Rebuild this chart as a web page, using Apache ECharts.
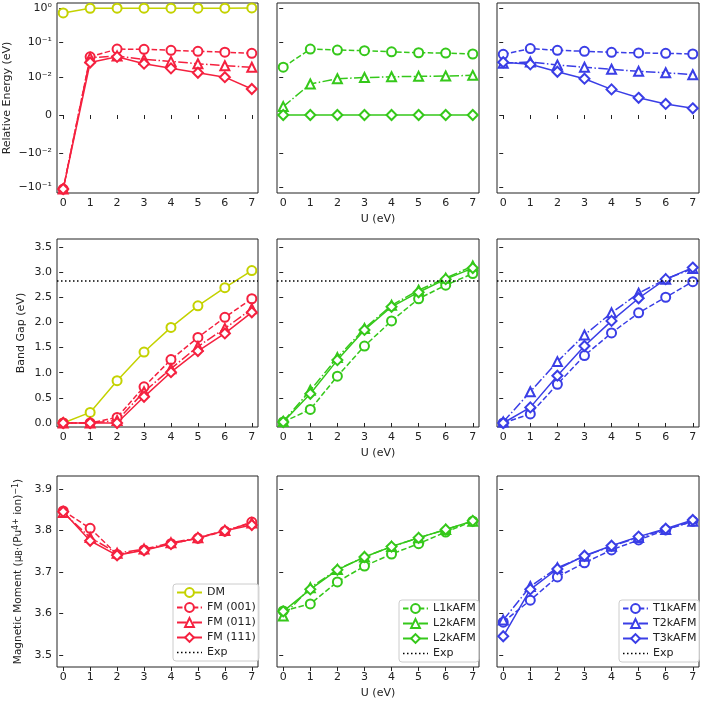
<!DOCTYPE html>
<html>
<head>
<meta charset="utf-8">
<script src="https://cdn.jsdelivr.net/npm/echarts@6/dist/echarts.min.js"></script>
<style>html,body{margin:0;padding:0;background:#fff}#c{width:702px;height:701px}</style>
</head>
<body>
<div id="c"></div>
<script>
// ---------------- data ----------------
const U = [0, 1, 2, 3, 4, 5, 6, 7];

// Relative energy (eV), symlog axis
const eDM    = [0.72, 0.98, 0.99, 0.99, 0.99, 0.99, 0.99, 1.0];
const eFM001 = [-0.11, 0.038, 0.064, 0.063, 0.059, 0.055, 0.052, 0.048];
const eFM011 = [-0.11, 0.036, 0.040, 0.032, 0.028, 0.024, 0.021, 0.019];
const eFM111 = [-0.11, 0.026, 0.038, 0.024, 0.0176, 0.0131, 0.0099, 0.0068];
const eL1 = [0.019, 0.064, 0.060, 0.0575, 0.053, 0.050, 0.049, 0.046];
const eL2 = [0.0022, 0.0081, 0.0095, 0.0098, 0.0100, 0.0103, 0.0105, 0.011];
const eL3 = [0, 0, 0, 0, 0, 0, 0, 0];
const eT1 = [0.045, 0.066, 0.059, 0.055, 0.0515, 0.0495, 0.048, 0.046];
const eT2 = [0.0247, 0.0269, 0.022, 0.0189, 0.0165, 0.0144, 0.0131, 0.0115];
const eT3 = [0.0264, 0.023, 0.014, 0.0095, 0.0067, 0.0045, 0.0029, 0.00175];

// Band gap (eV)
const gDM    = [0.0, 0.21, 0.84, 1.41, 1.90, 2.33, 2.69, 3.03];
const gFM001 = [0, 0, 0.11, 0.72, 1.26, 1.70, 2.10, 2.47];
const gFM011 = [0, 0, 0.05, 0.62, 1.08, 1.52, 1.88, 2.27];
const gFM111 = [0, 0, 0, 0.52, 1.01, 1.43, 1.78, 2.20];
const gL1 = [0.02, 0.27, 0.93, 1.53, 2.03, 2.47, 2.74, 2.97];
const gL2 = [0.03, 0.65, 1.30, 1.88, 2.34, 2.64, 2.88, 3.12];
const gL3 = [0.02, 0.58, 1.25, 1.85, 2.31, 2.60, 2.86, 3.08];
const gT1 = [0.0, 0.18, 0.77, 1.34, 1.79, 2.19, 2.50, 2.81];
const gT2 = [0.02, 0.62, 1.22, 1.75, 2.19, 2.58, 2.86, 3.07];
const gT3 = [0.0, 0.31, 0.94, 1.53, 2.03, 2.48, 2.86, 3.09];
const expGap = 2.82;

// Magnetic moment
const mFM001 = [3.847, 3.805, 3.742, 3.753, 3.768, 3.781, 3.798, 3.820];
const mFM011 = [3.843, 3.783, 3.745, 3.755, 3.770, 3.782, 3.800, 3.818];
const mFM111 = [3.845, 3.775, 3.740, 3.752, 3.767, 3.782, 3.799, 3.813];
const mL1 = [3.606, 3.623, 3.676, 3.714, 3.743, 3.768, 3.796, 3.822];
const mL2 = [3.594, 3.662, 3.706, 3.736, 3.761, 3.782, 3.802, 3.822];
const mL3 = [3.605, 3.658, 3.705, 3.736, 3.761, 3.782, 3.802, 3.823];
const mT1 = [3.579, 3.632, 3.688, 3.722, 3.753, 3.777, 3.801, 3.822];
const mT2 = [3.584, 3.665, 3.710, 3.738, 3.762, 3.783, 3.802, 3.822];
const mT3 = [3.545, 3.658, 3.707, 3.739, 3.763, 3.785, 3.804, 3.825];

// tick labels
const eTicks = [1, 0.1, 0.01, 0, -0.01, -0.1];
const eTickLabels = ['10\u2070', '10\u207B\u00B9', '10\u207B\u00B2', '0', '\u221210\u207B\u00B2', '\u221210\u207B\u00B9'];
const gTicks = [0, 0.5, 1.0, 1.5, 2.0, 2.5, 3.0, 3.5];
const mTicks = [3.5, 3.6, 3.7, 3.8, 3.9];

// ---------------- helpers ----------------
const FONT = 'DejaVu Sans';
const C_Y = '#c4d200', C_R = '#f5213f', C_G = '#35c81a', C_B = '#3a3ee6';
const LT = 0.01, LS = 1 / (1 - 1 / 10);
function symlog(v) {
  const a = Math.abs(v);
  if (a <= LT) return v / LT * LS;
  return Math.sign(v) * (LS + Math.log10(a / LT));
}
const eTickPos = eTicks.map(symlog);

const cols = [{ left: 57, width: 201 }, { left: 277, width: 202 }, { left: 497, width: 202 }];
const rows = [{ top: 3, height: 190 }, { top: 239, height: 188 }, { top: 476, height: 191 }];
const yRanges = [[-2.267, 3.256], [-0.08, 3.658], [3.471, 3.931]];

const grids = [], xAxes = [], yAxes = [];
for (let r = 0; r < 3; r++) {
  for (let c = 0; c < 3; c++) {
    grids.push({ left: cols[c].left, width: cols[c].width, top: rows[r].top, height: rows[r].height,
      show: true, borderColor: '#222', borderWidth: 1, backgroundColor: 'transparent' });
    xAxes.push({
      type: 'value', gridIndex: r * 3 + c, min: -0.23, max: 7.23,
      axisLine: { show: false }, splitLine: { show: false },
      axisTick: { customValues: U, length: 4, lineStyle: { color: '#222' } },
      axisLabel: { customValues: U, fontSize: 11, color: '#222', fontFamily: FONT, margin: 5 },
      name: c === 1 ? 'U (eV)' : '', nameLocation: 'middle', nameGap: 21,
      nameTextStyle: { fontSize: 11, color: '#222', fontFamily: FONT }
    });
    let ticks, fmt, name = '', gap = 0;
    if (r === 0) {
      ticks = eTickPos;
      fmt = v => { let bi = 0, bd = 1e9; eTickPos.forEach((p, i) => { const d = Math.abs(p - v); if (d < bd) { bd = d; bi = i; } }); return eTickLabels[bi]; };
      name = 'Relative Energy (eV)'; gap = 44;
    } else if (r === 1) {
      ticks = gTicks; fmt = v => v.toFixed(1); name = 'Band Gap (eV)'; gap = 30;
    } else {
      ticks = mTicks; fmt = v => v.toFixed(1); name = 'Magnetic Moment (\u03BC{sub|B}\u00B7(Pu{sup|4+} ion){sup|\u22121})'; gap = 33;
    }
    yAxes.push({
      type: 'value', gridIndex: r * 3 + c, min: yRanges[r][0], max: yRanges[r][1],
      axisLine: { show: false }, splitLine: { show: false },
      axisTick: { customValues: ticks, length: 4, lineStyle: { color: '#222' } },
      axisLabel: { show: c === 0, customValues: ticks, formatter: fmt, fontSize: 11, color: '#222', fontFamily: FONT, margin: 5 },
      name: c === 0 ? name : '', nameLocation: 'middle', nameRotate: 90, nameGap: gap,
      nameTextStyle: { fontSize: r === 2 ? 10.5 : 11, color: '#222', fontFamily: FONT,
        rich: { sub: { fontSize: 8, verticalAlign: 'bottom', fontFamily: FONT, color: '#222', padding: [4, 0, 0, 0] },
                sup: { fontSize: 8, verticalAlign: 'top', fontFamily: FONT, color: '#222', padding: [0, 0, 4, 0] } } }
    });
  }
}

const DASH = [5.5, 2.4], DASHDOT = [9.6, 2.4, 1.5, 2.4], DOT = [1.5, 2.5];
function S(name, color, kind, vals, idx, tf) {
  const sym = kind === 'c' || kind === 's' ? 'emptyCircle' : (kind === 't' ? 'emptyTriangle' : 'emptyDiamond');
  const size = kind === 'd' ? [10, 10] : 9;
  const type = kind === 'c' ? DASH : (kind === 't' ? DASHDOT : 'solid');
  return {
    name, type: 'line', xAxisIndex: idx, yAxisIndex: idx, clip: false,
    data: U.map((u, i) => [u, tf ? tf(vals[i]) : vals[i]]),
    symbol: sym, symbolSize: size, showAllSymbol: true,
    itemStyle: { color, borderWidth: 1.5 },
    lineStyle: { color, width: 1.5, type },
    emphasis: { disabled: true }
  };
}
function EXP(idx) {
  return {
    name: 'Exp', type: 'line', xAxisIndex: idx, yAxisIndex: idx, data: [], symbol: 'none',
    itemStyle: { color: '#000' },
    lineStyle: { color: '#000', width: 1.5, type: DOT },
    markLine: { silent: true, symbol: 'none', label: { show: false }, animation: false,
      lineStyle: { color: '#000', width: 1.5, type: DOT }, data: [{ yAxis: expGap }] }
  };
}

const series = [
  // row 1
  S('DM', C_Y, 's', eDM, 0, symlog),
  S('FM (001)', C_R, 'c', eFM001, 0, symlog),
  S('FM (011)', C_R, 't', eFM011, 0, symlog),
  S('FM (111)', C_R, 'd', eFM111, 0, symlog),
  S('L1kAFM', C_G, 'c', eL1, 1, symlog),
  S('L2kAFM', C_G, 't', eL2, 1, symlog),
  S('L3kAFM', C_G, 'd', eL3, 1, symlog),
  S('T1kAFM', C_B, 'c', eT1, 2, symlog),
  S('T2kAFM', C_B, 't', eT2, 2, symlog),
  S('T3kAFM', C_B, 'd', eT3, 2, symlog),
  // row 2
  EXP(3), EXP(4), EXP(5),
  S('DM', C_Y, 's', gDM, 3),
  S('FM (001)', C_R, 'c', gFM001, 3),
  S('FM (011)', C_R, 't', gFM011, 3),
  S('FM (111)', C_R, 'd', gFM111, 3),
  S('L1kAFM', C_G, 'c', gL1, 4),
  S('L2kAFM', C_G, 't', gL2, 4),
  S('L3kAFM', C_G, 'd', gL3, 4),
  S('T1kAFM', C_B, 'c', gT1, 5),
  S('T2kAFM', C_B, 't', gT2, 5),
  S('T3kAFM', C_B, 'd', gT3, 5),
  // row 3
  S('FM (001)', C_R, 'c', mFM001, 6),
  S('FM (011)', C_R, 't', mFM011, 6),
  S('FM (111)', C_R, 'd', mFM111, 6),
  S('L1kAFM', C_G, 'c', mL1, 7),
  S('L2kAFM', C_G, 't', mL2, 7),
  S('L3kAFM', C_G, 'd', mL3, 7),
  S('T1kAFM', C_B, 'c', mT1, 8),
  S('T2kAFM', C_B, 't', mT2, 8),
  S('T3kAFM', C_B, 'd', mT3, 8)
];

const EXP_ITEM = { name: 'Exp', itemStyle: { opacity: 0 }, lineStyle: { color: '#000', width: 1.5, type: DOT } };
function LEG(data, left, top) {
  return {
    data, left, top, orient: 'vertical', itemWidth: 25, itemHeight: 11, itemGap: 4,
    padding: [3, 3, 3, 3], borderColor: '#ccc', borderWidth: 1, borderRadius: 3,
    backgroundColor: 'rgba(255,255,255,0.85)', selectedMode: false,
    textStyle: { fontSize: 11, color: '#222', fontFamily: FONT },
    formatter: n => n === 'L3kAFM' ? 'L2kAFM' : n
  };
}

const chart = echarts.init(document.getElementById('c'), null, { renderer: 'canvas' });
chart.setOption({
  animation: false,
  backgroundColor: '#fff',
  textStyle: { fontFamily: FONT },
  grid: grids, xAxis: xAxes, yAxis: yAxes,
  legend: [
    LEG(['DM', 'FM (001)', 'FM (011)', 'FM (111)', EXP_ITEM], 173, 584),
    LEG(['L1kAFM', 'L2kAFM', 'L3kAFM', EXP_ITEM], 399, 600),
    LEG(['T1kAFM', 'T2kAFM', 'T3kAFM', EXP_ITEM], 619, 600)
  ],
  series
});
</script>
</body>
</html>
